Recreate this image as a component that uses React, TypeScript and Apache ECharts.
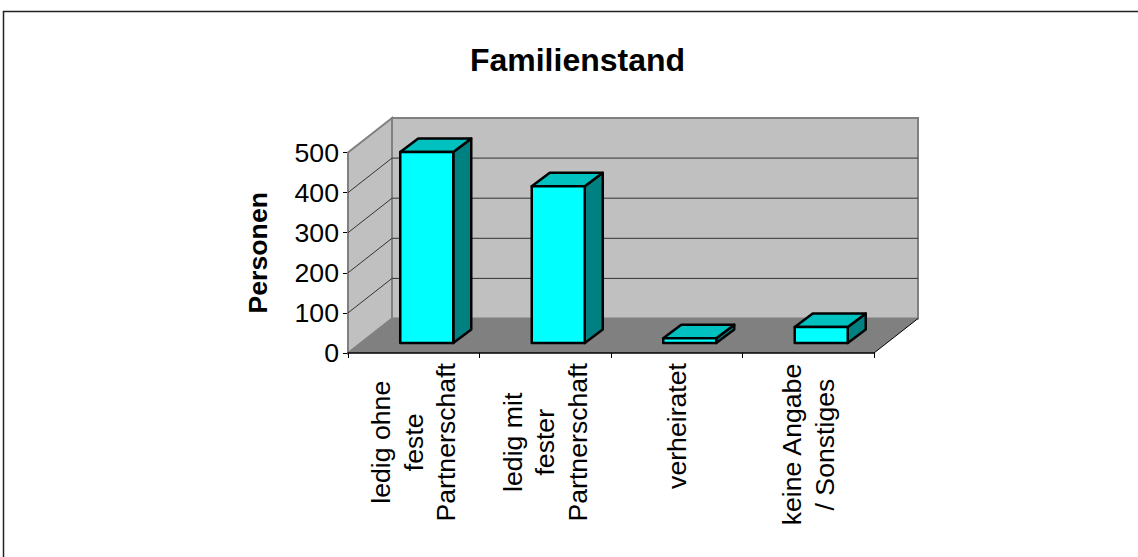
import React, { useEffect, useRef } from "react";
import * as echarts from "echarts";

const categories = ["ledig ohne\nfeste\nPartnerschaft", "ledig mit\nfester\nPartnerschaft", "verheiratet", "keine Angabe\n/ Sonstiges"];
const values = [476, 391, 12, 40];
const yTicks = [0, 100, 200, 300, 400, 500];
const FONT = "'Liberation Sans', Arial, sans-serif";
const DX = 44, DY = -34.5;
const BDX = 18, BDY = -13.5, INX = 13, INY = -10;

export default function App() {
  const ref = useRef<HTMLDivElement>(null);
  useEffect(() => {
    const chart = echarts.init(ref.current!, undefined, { renderer: "svg" });
    chart.setOption({
      animation: false,
      backgroundColor: "#fff",
      title: { text: "Familienstand", left: 572.5, top: 39, textAlign: "center", textStyle: { fontFamily: FONT, fontSize: 32, fontWeight: "bold", color: "#000" } },
      graphic: [{ type: "rect", shape: { x: 3.5, y: 11.5, width: 1200, height: 700 }, style: { fill: "none", stroke: "#222", lineWidth: 1.5 } }],
      grid: { left: 348, right: 264, top: 152.5, bottom: 204 },
      xAxis: {
        type: "category", data: categories, boundaryGap: true,
        axisLine: { lineStyle: { color: "#000", width: 1.5 } },
        axisTick: { show: true, length: 5, alignWithLabel: false, lineStyle: { color: "#000" } },
        axisLabel: {
          rotate: 90, interval: 0, margin: 10, align: "right", color: "#000",
          formatter: (v: string) => v.split("\n").map((l) => `{c|${l}}`).join("\n"),
          rich: { c: { align: "center", fontFamily: FONT, fontSize: 26.67, lineHeight: 32.5, color: "#000" } },
        },
        z: 10,
      },
      yAxis: {
        type: "value", min: 0, max: 500, interval: 100,
        name: "Personen", nameLocation: "middle", nameGap: 77, nameRotate: 90,
        nameTextStyle: { fontFamily: FONT, fontSize: 26.67, fontWeight: "bold", color: "#000" },
        axisLine: { show: true, lineStyle: { color: "#000", width: 1 } },
        axisTick: { show: true, length: 5, lineStyle: { color: "#000" } },
        axisLabel: { fontFamily: FONT, fontSize: 26.67, color: "#000", margin: 9 },
        splitLine: { show: false },
      },
      series: [
        {
          type: "custom", coordinateSystem: "cartesian2d", silent: true, z: 1,
          data: [[0, 0]],
          renderItem: (_p: any, api: any) => {
            const [x0, y0] = api.coord([0, 0]);
            const s = api.size([1, 0])[0];
            const yTop = api.coord([0, 500])[1];
            const xl = x0 - s / 2, xr = xl + s * 4;
            const wall = "#c0c0c0", line = "#808080";
            const children: any[] = [
              { type: "polygon", shape: { points: [[xl, y0], [xl + DX, y0 + DY], [xr + DX, y0 + DY], [xr, y0]] }, style: { fill: "#808080", stroke: "none" } },
              { type: "polygon", shape: { points: [[xl, y0], [xl + DX, y0 + DY], [xl + DX, yTop + DY], [xl, yTop]] }, style: { fill: wall, stroke: line, lineWidth: 2 } },
              { type: "rect", shape: { x: xl + DX, y: yTop + DY, width: xr - xl, height: y0 - yTop }, style: { fill: wall, stroke: line, lineWidth: 2 } },
            ];
            yTicks.slice(1, -1).forEach((t) => {
              const y = api.coord([0, t])[1];
              children.push({ type: "polyline", shape: { points: [[xl, y], [xl + DX, y + DY], [xr + DX, y + DY]] }, style: { fill: "none", stroke: "#333", lineWidth: 1 } });
            });
            children.push({ type: "line", shape: { x1: xr, y1: y0, x2: xr + DX, y2: y0 + DY }, style: { stroke: "#000", lineWidth: 1 } });
            return { type: "group", children };
          },
        },
        {
          type: "custom", coordinateSystem: "cartesian2d", silent: true, z: 5,
          data: values.map((v, i) => [i, v]),
          encode: { x: 0, y: 1 },
          renderItem: (_p: any, api: any) => {
            const [cx, yt0] = api.coord([api.value(0), api.value(1)]);
            const yb0 = api.coord([api.value(0), 0])[1];
            const w = 53;
            const xl = cx - w / 2 + INX, xr = xl + w, yb = yb0 + INY, yt = yt0 + INY;
            const st = { stroke: "#000", lineWidth: 2.5, lineJoin: "round" };
            return {
              type: "group",
              children: [
                { type: "polygon", shape: { points: [[xr, yt], [xr + BDX, yt + BDY], [xr + BDX, yb + BDY], [xr, yb]] }, style: { fill: "#008080", ...st } },
                { type: "polygon", shape: { points: [[xl, yt], [xl + BDX, yt + BDY], [xr + BDX, yt + BDY], [xr, yt]] }, style: { fill: "#00c0c0", ...st } },
                { type: "rect", shape: { x: xl, y: yt, width: w, height: yb - yt }, style: { fill: "#00ffff", ...st } },
              ],
            };
          },
        },
      ],
    });
    return () => chart.dispose();
  }, []);
  return <div ref={ref} style={{ position: "fixed", left: 0, top: 0, width: 1138, height: 557 }} />;
}
